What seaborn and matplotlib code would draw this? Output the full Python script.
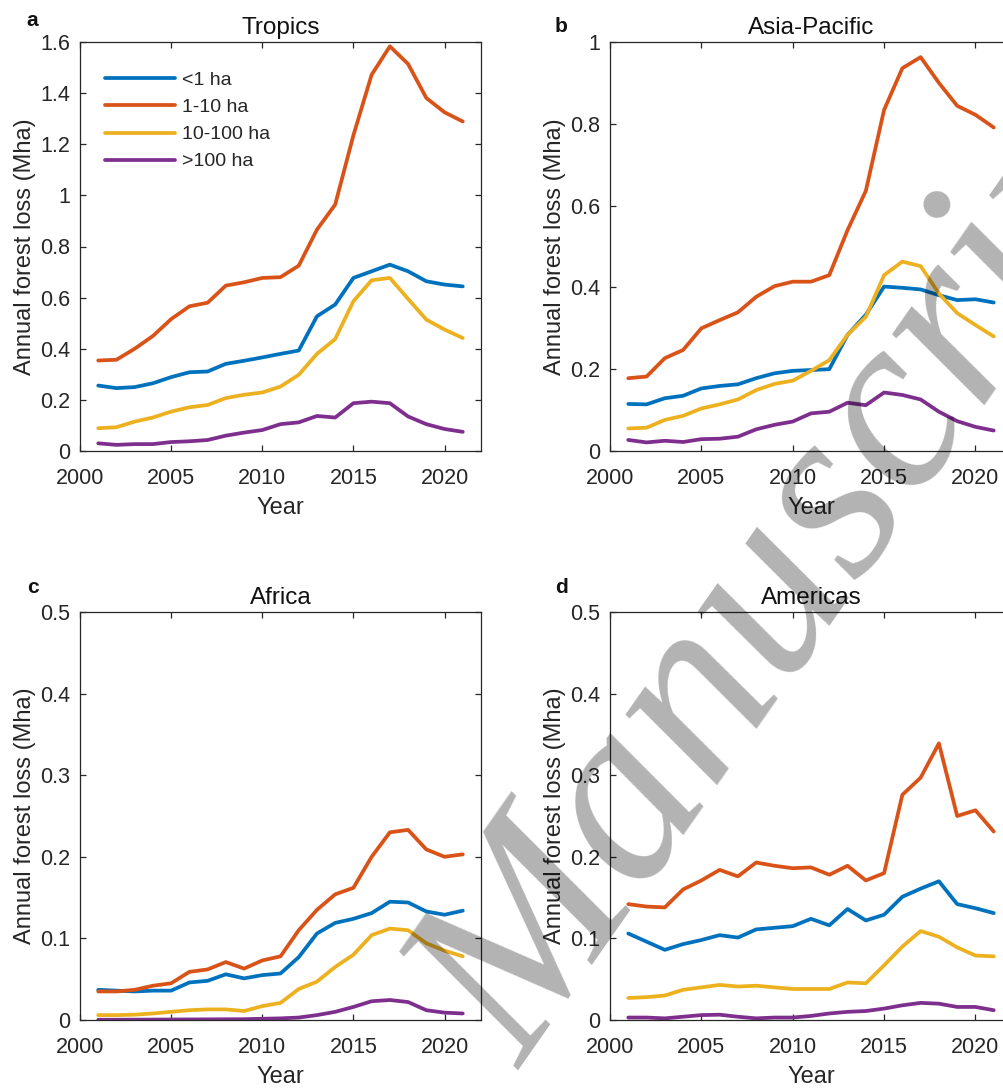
import numpy as np
import pandas as pd
import matplotlib
matplotlib.use("Agg")
import matplotlib.pyplot as plt
from matplotlib.ticker import FuncFormatter, MultipleLocator
import seaborn as sns

# ---- data -------------------------------------------------------------
years = list(range(2001, 2022))
size_classes = ["<1 ha", "1-10 ha", "10-100 ha", ">100 ha"]
line_colors = ["#0072BD", "#D95319", "#EDB120", "#7E2F8E"]

tropics_lt1 = [0.256, 0.246, 0.250, 0.265, 0.289, 0.308, 0.311, 0.341, 0.353, 0.366, 0.380,
               0.393, 0.527, 0.573, 0.677, 0.703, 0.729, 0.703, 0.664, 0.651, 0.644]
tropics_1_10 = [0.354, 0.357, 0.400, 0.450, 0.516, 0.566, 0.580, 0.647, 0.660, 0.677, 0.680,
                0.725, 0.866, 0.964, 1.235, 1.472, 1.583, 1.514, 1.381, 1.325, 1.289]
tropics_10_100 = [0.089, 0.093, 0.115, 0.131, 0.154, 0.171, 0.180, 0.207, 0.220, 0.229, 0.252,
                  0.298, 0.380, 0.438, 0.586, 0.668, 0.677, 0.595, 0.514, 0.475, 0.442]
tropics_gt100 = [0.030, 0.024, 0.027, 0.027, 0.035, 0.038, 0.043, 0.060, 0.072, 0.082, 0.105,
                 0.112, 0.137, 0.131, 0.187, 0.193, 0.187, 0.135, 0.105, 0.086, 0.075]

asia_lt1 = [0.115, 0.114, 0.129, 0.135, 0.153, 0.159, 0.163, 0.178, 0.190, 0.196, 0.198,
            0.200, 0.284, 0.333, 0.402, 0.399, 0.395, 0.381, 0.369, 0.371, 0.363]
asia_1_10 = [0.178, 0.182, 0.227, 0.247, 0.300, 0.320, 0.339, 0.377, 0.403, 0.414, 0.414,
             0.430, 0.540, 0.636, 0.834, 0.936, 0.963, 0.900, 0.844, 0.822, 0.791]
asia_10_100 = [0.055, 0.057, 0.076, 0.086, 0.104, 0.114, 0.126, 0.149, 0.164, 0.172, 0.196,
               0.222, 0.284, 0.328, 0.430, 0.463, 0.452, 0.385, 0.337, 0.308, 0.280]
asia_gt100 = [0.027, 0.021, 0.025, 0.022, 0.029, 0.030, 0.035, 0.053, 0.064, 0.072, 0.092,
              0.096, 0.118, 0.112, 0.143, 0.137, 0.126, 0.096, 0.073, 0.059, 0.050]

africa_lt1 = [0.037, 0.036, 0.035, 0.036, 0.036, 0.046, 0.048, 0.056, 0.051, 0.055, 0.057,
              0.077, 0.106, 0.119, 0.124, 0.131, 0.145, 0.144, 0.133, 0.129, 0.134]
africa_1_10 = [0.035, 0.035, 0.037, 0.042, 0.045, 0.059, 0.062, 0.071, 0.063, 0.073, 0.078,
               0.110, 0.135, 0.154, 0.162, 0.200, 0.230, 0.233, 0.209, 0.200, 0.203]
africa_10_100 = [0.006, 0.006, 0.0065, 0.008, 0.010, 0.012, 0.013, 0.013, 0.011, 0.017, 0.021,
                 0.038, 0.047, 0.065, 0.080, 0.104, 0.112, 0.110, 0.094, 0.085, 0.078]
africa_gt100 = [0.0003, 0.0003, 0.0004, 0.0005, 0.0006, 0.0007, 0.0008, 0.0009, 0.0010, 0.0015, 0.002,
                0.003, 0.006, 0.010, 0.016, 0.023, 0.0245, 0.022, 0.012, 0.009, 0.008]

americas_lt1 = [0.106, 0.096, 0.086, 0.093, 0.098, 0.104, 0.101, 0.111, 0.113, 0.115, 0.124,
                0.116, 0.136, 0.122, 0.129, 0.151, 0.161, 0.170, 0.142, 0.137, 0.131]
americas_1_10 = [0.142, 0.139, 0.138, 0.160, 0.171, 0.184, 0.176, 0.193, 0.189, 0.186, 0.187,
                 0.178, 0.189, 0.171, 0.180, 0.276, 0.297, 0.339, 0.250, 0.257, 0.231]
americas_10_100 = [0.027, 0.028, 0.030, 0.037, 0.040, 0.043, 0.041, 0.042, 0.040, 0.038, 0.038,
                   0.038, 0.046, 0.045, 0.067, 0.090, 0.109, 0.102, 0.089, 0.079, 0.078]
americas_gt100 = [0.003, 0.003, 0.002, 0.004, 0.006, 0.0065, 0.004, 0.002, 0.003, 0.003, 0.005,
                  0.008, 0.010, 0.011, 0.014, 0.018, 0.021, 0.020, 0.016, 0.016, 0.012]

panel_letters = ["a", "b", "c", "d"]
region_titles = ["Tropics", "Asia-Pacific", "Africa", "Americas"]
region_series = [
    [tropics_lt1, tropics_1_10, tropics_10_100, tropics_gt100],
    [asia_lt1, asia_1_10, asia_10_100, asia_gt100],
    [africa_lt1, africa_1_10, africa_10_100, africa_gt100],
    [americas_lt1, americas_1_10, americas_10_100, americas_gt100],
]
y_limits = [1.6, 1.0, 0.5, 0.5]
y_steps = [0.2, 0.2, 0.1, 0.1]

# ---- style ------------------------------------------------------------
sns.set_theme(style="ticks")
plt.rcParams["font.family"] = ["Liberation Sans", "DejaVu Sans"]
ink = "#262626"

W, H = 1004, 1089
fig = plt.figure(figsize=(W / 100, H / 100), dpi=100)
fig.patch.set_facecolor("white")

# axes boxes in pixels: left, top, width, height
boxes = [(80, 42, 401, 409), (610, 42, 402, 409),
         (80, 612, 401, 408), (610, 612, 402, 408)]
# panel letter anchors in pixels: left, baseline
letter_pos = [(26, 26), (555, 32), (27, 593), (555, 593)]

fmt = FuncFormatter(lambda v, _: f"{v:g}")

for i, (box, title, letter, series) in enumerate(zip(boxes, region_titles, panel_letters, region_series)):
    l, t, w, h = box
    ax = fig.add_axes([l / W, 1 - (t + h) / H, w / W, h / H])
    df = pd.DataFrame({
        "Year": years * len(size_classes),
        "loss": [v for s in series for v in s],
        "size": [c for c in size_classes for _ in years],
    })
    sns.lineplot(data=df, x="Year", y="loss", hue="size", hue_order=size_classes,
                 palette=line_colors, linewidth=2.7, errorbar=None, ax=ax,
                 legend=(i == 0))
    ax.set_xlim(2000, 2022)
    ax.set_ylim(0, y_limits[i])
    ax.xaxis.set_major_locator(MultipleLocator(5))
    ax.yaxis.set_major_locator(MultipleLocator(y_steps[i]))
    ax.yaxis.set_major_formatter(fmt)
    ax.tick_params(direction="in", length=4.5, width=0.9, colors=ink, labelsize=15.5,
                   top=True, right=True, pad=7)
    ax.tick_params(axis="x", pad=12)
    for sp in ax.spines.values():
        sp.set_visible(True)
        sp.set_color(ink)
        sp.set_linewidth(0.9)
    ax.set_xlabel("Year", fontsize=17, color=ink, labelpad=6)
    ax.set_ylabel("Annual forest loss (Mha)", fontsize=17, color=ink, labelpad=3)
    ax.set_title(title, fontsize=17.5, color="#111111", pad=6)
    lx, ly = letter_pos[i]
    fig.text(lx / W, 1 - ly / H, letter, fontsize=15, fontweight="bold",
             ha="left", va="baseline", color="#111111")
    if i == 0:
        leg = ax.legend(loc="upper left", bbox_to_anchor=(0.062, 0.928), frameon=False,
                        fontsize=14, handlelength=3.6, handletextpad=0.35,
                        labelspacing=0.49, borderpad=0, borderaxespad=0)
        for ln in leg.get_lines():
            ln.set_linewidth(2.7)
        for tx in leg.get_texts():
            tx.set_color(ink)

# translucent diagonal watermark across the lower right of the figure
wm_x, wm_y = 522, 1070
fig.text(wm_x / W, 1 - wm_y / H, "Manuscript", fontsize=182, family="Liberation Serif",
         style="italic", color="black", alpha=0.3, rotation=55, rotation_mode="anchor",
         ha="left", va="baseline", zorder=10)

fig.savefig("out.png", dpi=100, facecolor="white")
